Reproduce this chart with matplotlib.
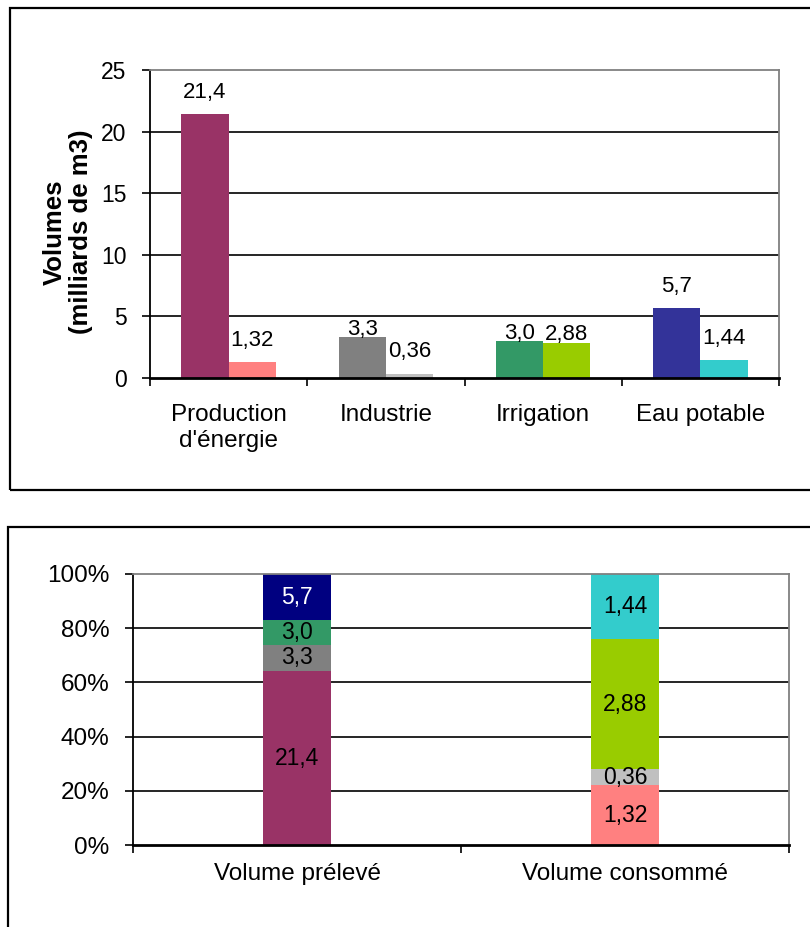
import matplotlib
matplotlib.use("Agg")
import matplotlib.pyplot as plt
from matplotlib.patches import Rectangle
import numpy as np

plt.rcParams['font.family'] = ['Liberation Sans', 'DejaVu Sans']

# data
categories = ["Production\nd'énergie", "Industrie", "Irrigation", "Eau potable"]
preleve = [21.4, 3.3, 3.0, 5.7]
consomme = [1.32, 0.36, 2.88, 1.44]
preleve_txt = ["21,4", "3,3", "3,0", "5,7"]
consomme_txt = ["1,32", "0,36", "2,88", "1,44"]
stack_groups = ["Volume prélevé", "Volume consommé"]
top_yticks = [0, 5, 10, 15, 20, 25]
pct_ticks = [0, 20, 40, 60, 80, 100]

# colours
col_prel = ['#993366', '#808080', '#339966', '#333399']
col_prel_stack = ['#993366', '#808080', '#339966', '#000080']
col_cons = ['#FF8080', '#C0C0C0', '#99CC00', '#33CCCC']
prel_pad = [8, -2, -2, 8]   # label offset above bar, points
cons_pad = [8, 8, -2, 8]

fig = plt.figure(figsize=(8.1, 9.27), dpi=100)

# frames around both charts
fig.patches.append(Rectangle((10/810, 1-490/927), 2, 482/927, transform=fig.transFigure,
                             fill=False, ec='black', lw=1.6))
fig.patches.append(Rectangle((8/810, -1), 2, 1 + 1-527/927, transform=fig.transFigure,
                             fill=False, ec='black', lw=1.6))


def style_axes(ax):
    ax.set_axisbelow(True)
    ax.spines['top'].set_color('#808080')
    ax.spines['right'].set_color('#808080')
    ax.spines['top'].set_linewidth(1.3)
    ax.spines['right'].set_linewidth(1.3)
    ax.spines['left'].set_linewidth(1.3)
    ax.spines['bottom'].set_linewidth(2)
    ax.tick_params(axis='both', which='major', direction='out', length=6, width=1.2, color='black')


# ---- top chart: grouped bars
ax1 = fig.add_axes([150/810, 1-378/927, 629/810, 308/927])
x = np.arange(len(categories))
w = 0.30
b1 = ax1.bar(x - w/2, preleve, w, color=col_prel, zorder=2)
b2 = ax1.bar(x + w/2, consomme, w, color=col_cons, zorder=2)
for v in top_yticks[1:-1]:
    ax1.axhline(v, color='black', lw=1.2, zorder=1)
for bars, txts, pads in [(b1, preleve_txt, prel_pad), (b2, consomme_txt, cons_pad)]:
    for r, t, p in zip(bars, txts, pads):
        ax1.annotate(t, (r.get_x() + r.get_width()/2, r.get_height()), xytext=(0, p),
                     textcoords='offset points', ha='center', va='bottom', fontsize=16)
ax1.set_xlim(-0.5, 3.5)
ax1.set_ylim(0, 25)
ax1.set_yticks(top_yticks)
ax1.tick_params(axis='y', labelsize=16.5, pad=11)
ax1.set_xticks(np.arange(-0.5, 4, 1))
ax1.set_xticklabels([])
ax1.set_xticks(x, minor=True)
ax1.set_xticklabels(categories, minor=True, fontsize=17.5)
ax1.tick_params(axis='x', which='minor', length=0, pad=19)
style_axes(ax1)
fig.text(68/810, 1-232/927, "Volumes\n(milliards de m3)", rotation=90, ha='center', va='center',
         multialignment='center', fontsize=18.5, fontweight='bold', linespacing=1.1)

# ---- bottom chart: 100% stacked bars
ax2 = fig.add_axes([133/810, 1-845/927, 656/810, 271/927])
xs = np.arange(len(stack_groups))
ws = 0.21
for gi, (vals, txts, cols) in enumerate([(preleve, preleve_txt, col_prel_stack),
                                         (consomme, consomme_txt, col_cons)]):
    tot = sum(vals)
    bottom = 0
    for v, t, c in zip(vals, txts, cols):
        h = v / tot * 100
        ax2.bar(xs[gi], h, ws, bottom=bottom, color=c, zorder=2)
        ax2.text(xs[gi], bottom + h/2, t, ha='center', va='center', fontsize=16.5,
                 color='white' if c == '#000080' else 'black', zorder=3)
        bottom += h
for v in pct_ticks[1:-1]:
    ax2.axhline(v, color='black', lw=1.2, zorder=1)
ax2.set_xlim(-0.5, 1.5)
ax2.set_ylim(0, 100)
ax2.set_yticks(pct_ticks)
ax2.set_yticklabels([f"{p}%" for p in pct_ticks])
ax2.tick_params(axis='y', labelsize=17.5, pad=11)
ax2.set_xticks([-0.5, 0.5, 1.5])
ax2.set_xticklabels([])
ax2.set_xticks(xs, minor=True)
ax2.set_xticklabels(stack_groups, minor=True, fontsize=17.5)
ax2.tick_params(axis='x', which='minor', length=0, pad=13)
style_axes(ax2)

fig.savefig("out.png", dpi=100)
